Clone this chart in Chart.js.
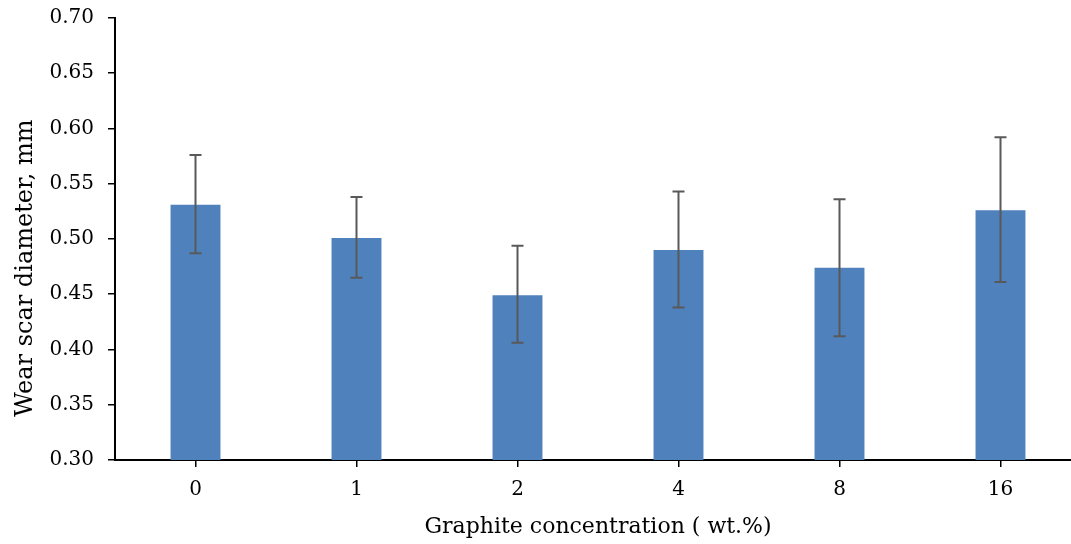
<!DOCTYPE html>
<html>
<head>
<meta charset="utf-8">
<script src="https://cdn.jsdelivr.net/npm/chart.js@4"></script>
<style>
  html, body { margin: 0; padding: 0; background: #fff; overflow: hidden; }
  #wrap { width: 1085px; height: 544px; }
</style>
</head>
<body>
<div id="wrap"><canvas id="wearChart" width="1085" height="544"></canvas></div>
<script>
// Wear scar diameter vs graphite content
const concentrations = ['0', '1', '2', '4', '8', '16'];
const wearScar = [0.531, 0.501, 0.449, 0.490, 0.474, 0.526];
const errUpper = [0.576, 0.538, 0.494, 0.543, 0.536, 0.592];
const errLower = [0.487, 0.465, 0.406, 0.438, 0.412, 0.461];
const yTicks = [0.30, 0.35, 0.40, 0.45, 0.50, 0.55, 0.60, 0.65, 0.70];
const yTitle = 'Wear scar diameter, mm';

// draws the error bars with caps, plus the rotated y title
const errorBars = {
    id: 'errorBars',
    afterDatasetsDraw(chart) {
        const ctx = chart.ctx;
        const x = chart.scales.x, y = chart.scales.y;
        ctx.save();
        ctx.strokeStyle = '#595959';
        ctx.lineWidth = 2;
        concentrations.forEach((c, i) => {
            const px = x.getPixelForValue(i);
            const top = y.getPixelForValue(errUpper[i]);
            const bot = y.getPixelForValue(errLower[i]);
            ctx.beginPath();
            ctx.moveTo(px, top); ctx.lineTo(px, bot);
            ctx.moveTo(px - 6, top); ctx.lineTo(px + 6, top);
            ctx.moveTo(px - 6, bot); ctx.lineTo(px + 6, bot);
            ctx.stroke();
        });
        ctx.restore();

        ctx.save();
        ctx.translate(26, 268);
        ctx.rotate(-Math.PI / 2);
        ctx.font = '24px "DejaVu Serif"';
        ctx.fillStyle = '#000';
        ctx.textAlign = 'center';
        ctx.textBaseline = 'middle';
        ctx.fillText(yTitle, 0, 0);
        ctx.restore();
    }
};

const font = { family: 'DejaVu Serif', size: 20 };
const titleFont = { family: 'DejaVu Serif', size: 22 };

new Chart(document.getElementById('wearChart'), {
    type: 'bar',
    data: {
        labels: concentrations,
        datasets: [{
            data: wearScar,
            backgroundColor: '#4F81BD',
            barPercentage: 0.31,
            categoryPercentage: 1
        }]
    },
    options: {
        responsive: false,
        animation: false,
        layout: { padding: { top: 18, right: 4 } },
        plugins: { legend: { display: false }, tooltip: { enabled: false } },
        scales: {
            x: {
                grid: { display: true, drawOnChartArea: false, offset: false, tickLength: 7, color: '#000', lineWidth: 1.5 },
                border: { display: true, color: '#000', width: 2 },
                ticks: { color: '#000', font: font, padding: 11 },
                title: { display: true, text: 'Graphite concentration ( wt.%)', color: '#000', font: titleFont, padding: { top: 4 } },
                afterFit(scale) { scale.height = 84; }
            },
            y: {
                min: 0.30,
                max: 0.70,
                afterBuildTicks(scale) { scale.ticks = yTicks.map(v => ({ value: v })); },
                grid: { display: true, drawOnChartArea: false, tickLength: 7, color: '#000', lineWidth: 1.5 },
                border: { display: true, color: '#000', width: 2 },
                ticks: { color: '#000', font: font, padding: 14, callback: v => v.toFixed(2) },
                afterFit(scale) {
                    scale.width = 115;
                    scale.paddingTop = 0;
                    scale.paddingBottom = 0;
                }
            }
        }
    },
    plugins: [errorBars]
});
</script>
</body>
</html>
